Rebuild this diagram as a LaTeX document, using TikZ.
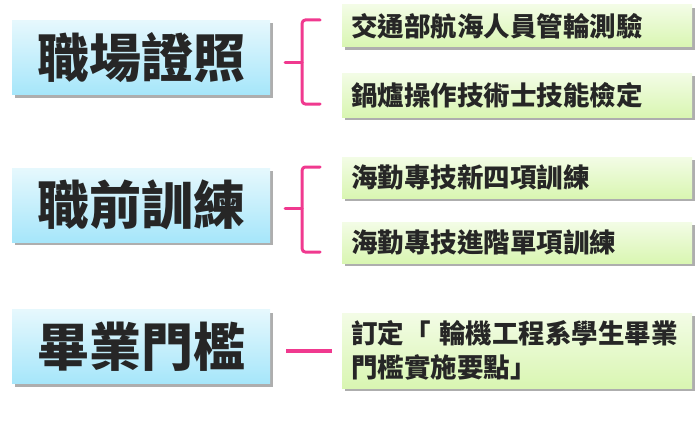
\documentclass[tikz,border=0pt]{standalone}
\usepackage{fontspec}
\newfontfamily\cjk{Noto Sans CJK TC}[BoldFont=Noto Sans CJK TC Black]
\usetikzlibrary{shadows,calc}
\definecolor{bluetop}{HTML}{E6F8FD}
\definecolor{bluebot}{HTML}{A6E6FA}
\definecolor{greentop}{HTML}{F3FCE6}
\definecolor{greenbot}{HTML}{D9F6B2}
\definecolor{pinkline}{HTML}{F0398F}
\definecolor{txt}{HTML}{262626}
\tikzset{
  x=1pt,y=-1pt,
  mainbox/.style={rectangle, minimum width=258pt, minimum height=74pt, inner sep=0pt,
    top color=bluetop, bottom color=bluebot, draw=none,
    drop shadow={shadow xshift=3pt, shadow yshift=-3pt, opacity=0.45, fill=black!70},
    font=\cjk\bfseries\fontsize{52}{54}\selectfont, text=txt},
  subbox/.style={rectangle, minimum width=350pt, inner sep=0pt, text width=332pt, align=left,
    top color=greentop, bottom color=greenbot, draw=none,
    drop shadow={shadow xshift=3pt, shadow yshift=-3pt, opacity=0.45, fill=black!70},
    font=\cjk\bfseries\fontsize{26.5}{34}\selectfont, text=txt},
  bracket/.style={draw=pinkline, line width=3pt, line cap=round, line join=round, rounded corners=3pt}
}
\begin{document}
\begin{tikzpicture}
\useasboundingbox (0,0) rectangle (700,420);
% left boxes
\node[mainbox] (L1) at (141,57.5) {職場證照};
\node[mainbox] (L2) at (141,205) {職前訓練};
\node[mainbox] (L3) at (141,346.5) {畢業門檻};
% right boxes
\node[subbox, minimum height=42pt] (R1) at (517,26) {交通部航海人員管輪測驗};
\node[subbox, minimum height=44pt] (R2) at (517,95) {鍋爐操作技術士技能檢定};
\node[subbox, minimum height=41pt] (R3) at (517,177.5) {海勤專技新四項訓練};
\node[subbox, minimum height=41pt] (R4) at (517,242.5) {海勤專技進階單項訓練};
\node[subbox, minimum height=75pt] (R5) at (517,350.5) {訂定「 輪機工程系學生畢業\\門檻實施要點」};
% brace 1
\coordinate (B1tip) at ($(L1.east)+(15,4.5)$);
\coordinate (B1mid) at ($(B1tip)+(17,0)$);
\coordinate (B1top) at ($(B1mid)+(0,-42)$);
\coordinate (B1bot) at ($(B1mid)+(0,42)$);
\draw[bracket] ($(B1top)+(18,0)$) -- (B1top) -- (B1bot) -- ($(B1bot)+(18,0)$);
\draw[bracket] (B1tip) -- (B1mid);
% brace 2
\coordinate (B2tip) at ($(L2.east)+(15,3)$);
\coordinate (B2mid) at ($(B2tip)+(17,0)$);
\coordinate (B2top) at ($(B2mid)+(0,-41)$);
\coordinate (B2bot) at ($(B2mid)+(0,44)$);
\draw[bracket] ($(B2top)+(18,0)$) -- (B2top) -- (B2bot) -- ($(B2bot)+(18,0)$);
\draw[bracket] (B2tip) -- (B2mid);
% line 3
\draw[draw=pinkline, line width=3.5pt]
  ($(L3.east)+(16,4.5)$) -- ($(R5.west)+(-10,0.5)$);
\end{tikzpicture}
\end{document}
